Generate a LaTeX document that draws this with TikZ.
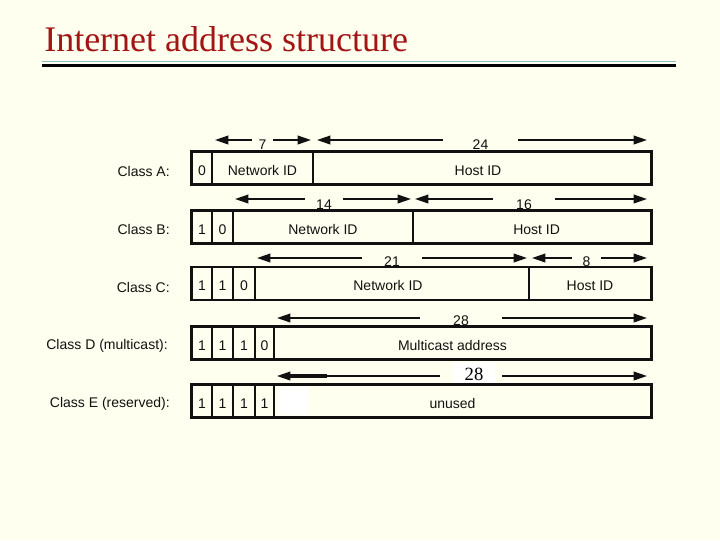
\documentclass[tikz,border=0pt]{standalone}
\usepackage{fontspec}
\setmainfont{Liberation Serif}
\newfontfamily\addrsans{Liberation Sans}
\usetikzlibrary{arrows.meta, calc}
\definecolor{ipBack}{HTML}{FFFFF0}
\definecolor{ipTitle}{HTML}{A31515}
\definecolor{ipRule}{HTML}{8FB9C1}
\definecolor{ipInk}{HTML}{111111}

% One field of an address: name, left x, right x, row centre y, text.
\newcommand{\ipfield}[5]{%
  \pgfmathsetmacro{\fw}{(#3-#2)*0.75}%
  \node[cell, minimum width=\fw pt] (#1) at ({(#2+#3)/2},#4) {#5};}

% A width arrow over a field: name, left tip, gap start, gap end, right tip,
% arrow y, label y, label.
\newcommand{\ipspan}[8]{%
  \pgfmathsetmacro{\gw}{(#4-#3)*0.75}%
  \coordinate (#1l) at (#2,#6);
  \coordinate (#1r) at (#5,#6);
  \node[lbl, minimum width=\gw pt] (#1) at ({(#3+#4)/2},#7) {#8};
  \draw[dim, tipped] (#1.west |- #1l) -- (#1l);
  \draw[dim, tipped] (#1.east |- #1r) -- (#1r);}

\begin{document}
\begin{tikzpicture}[
  x=0.75pt, y=-0.75pt,
  lbl/.style={font=\addrsans\fontsize{10.5}{12}\selectfont, text=ipInk, inner sep=0pt},
  cell/.style={draw=ipInk, line width=1.1pt, minimum height=24pt, inner sep=0pt,
               text height=11pt, text depth=0pt,
               font=\addrsans\fontsize{10.5}{12}\selectfont, text=ipInk},
  frame/.style={draw=ipInk, line width=1.7pt},
  dim/.style={draw=ipInk, line width=1.2pt},
  tipped/.style={-{Triangle[length=10pt, width=6.5pt]}},
]
\fill[ipBack] (0,0) rectangle (720,540);
\useasboundingbox (0,0) rectangle (720,540);

% ================================ title ======================================
\node[anchor=base west, inner sep=0pt, text=ipTitle,
      font=\fontsize{27}{30}\selectfont] (title) at (44,51) {Internet address structure};
\draw[ipRule, line width=1.4pt] (42,61.5) -- (676,61.5);
\draw[black, line width=1.8pt] (42,65.5) -- (676,65.5);

% ================================ class A ====================================
\node[lbl, anchor=east] (clsA) at (170,171) {Class A:};
\ipspan{a7}{215}{252}{273}{311}{140}{145}{7}
\ipspan{a24}{317}{443}{518}{647}{140}{145}{24}
\ipfield{a0}{192}{212}{168}{0}
\ipfield{aNet}{212}{313}{168}{Network ID}
\ipfield{aHost}{313}{651}{168}{Host ID\hspace*{6pt}}
\draw[frame] (a0.north west) rectangle (aHost.south east);

% ================================ class B ====================================
\node[lbl, anchor=east] (clsB) at (170,229) {Class B:};
\ipspan{b14}{235}{305}{343}{411}{199}{205}{14}
\ipspan{b16}{415}{493}{555}{647}{199}{205}{16}
\ipfield{b1}{192}{212}{227}{1}
\ipfield{b0}{212}{233}{227}{0}
\ipfield{bNet}{233}{413}{227}{Network ID}
\ipfield{bHost}{413}{651}{227}{\hspace*{7pt}Host ID}
\draw[frame] (b1.north west) rectangle (bHost.south east);

% ================================ class C ====================================
\node[lbl, anchor=east] (clsC) at (170,287) {Class C:};
\ipspan{c21}{257}{362}{422}{527}{258}{262}{21}
\ipspan{c8}{532}{572}{601}{647}{258}{262}{8}
\ipfield{c1}{192}{212}{283.5}{1}
\ipfield{c2}{212}{233}{283.5}{1}
\ipfield{c0}{233}{255}{283.5}{0}
\ipfield{cNet}{255}{529}{283.5}{Network ID\hspace*{6pt}}
\ipfield{cHost}{529}{651}{283.5}{Host ID}
\draw[frame] (c1.north west) rectangle (cHost.south east);

% ================================ class D ====================================
\node[lbl, anchor=east] (clsD) at (168,346) {Class D (multicast):};
\ipspan{d28}{277}{420}{502}{647}{318}{321}{28}
\ipfield{d1}{192}{212}{343}{1}
\ipfield{d2}{212}{233}{343}{1}
\ipfield{d3}{233}{255}{343}{1}
\ipfield{d0}{255}{274}{343}{0}
\ipfield{dMc}{274}{651}{343}{Multicast address\hspace*{15pt}}
\draw[frame] (d1.north west) rectangle (dMc.south east);

% ================================ class E ====================================
% The width label here is pasted over in a serif face, on a white patch.
\node[lbl, anchor=east] (clsE) at (170,404) {Class E (reserved):};
\coordinate (e28l) at (277,376);
\coordinate (e28k) at (327,376);
\coordinate (e28g) at (440,376);
\coordinate (e28h) at (502,376);
\coordinate (e28r) at (647,376);
\node[fill=white, inner sep=0pt, minimum width=31.5pt, minimum height=16pt,
      font=\fontsize{14}{16}\selectfont] (e28) at (474,374) {28};
\draw[dim, tipped] (e28g) -- (e28l);
\draw[dim, line width=3pt] (e28k) -- ($(e28l)+(9,0)$);
\draw[dim, tipped] (e28h) -- (e28r);
\ipfield{e1}{192}{212}{401}{1}
\ipfield{e2}{212}{233}{401}{1}
\ipfield{e3}{233}{255}{401}{1}
\ipfield{e4}{255}{274}{401}{1}
\ipfield{eUn}{274}{651}{401}{unused\hspace*{15pt}}
\fill[white] (279,387) rectangle (308,415);
\draw[frame] (e1.north west) rectangle (eUn.south east);
\end{tikzpicture}
\end{document}
